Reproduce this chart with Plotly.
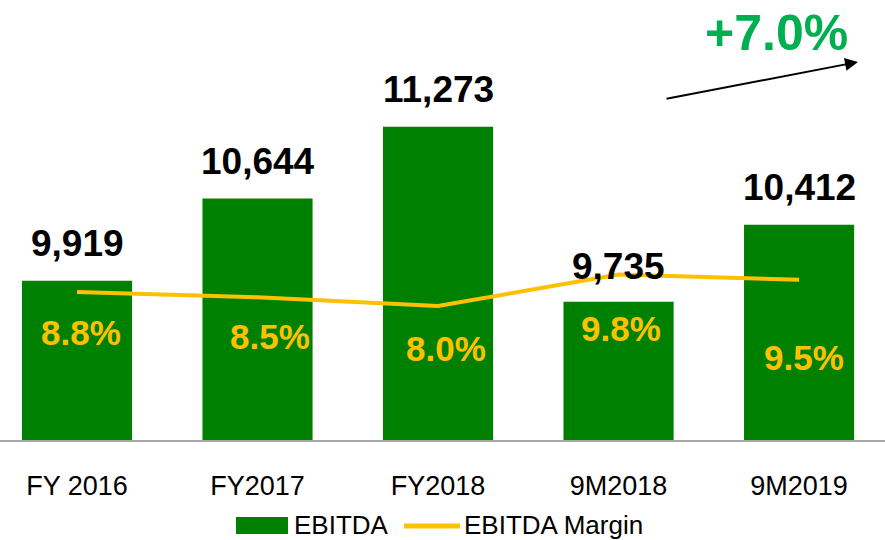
import plotly.graph_objects as go

categories = ["FY 2016", "FY2017", "FY2018", "9M2018", "9M2019"]
ebitda = [9919, 10644, 11273, 9735, 10412]
margin = [8.8, 8.5, 8.0, 9.8, 9.5]
growth_label = "+7.0%"
series_names = ["EBITDA", "EBITDA Margin"]

# label offsets (styling only)
value_yshift = [37, 37, 37, 35, 37]
margin_yshift = [-41, -39, -43, -54, -78]
margin_xshift = [4, 12, 8, 2, 5]

FONT = "Liberation Sans, Arial, sans-serif"
GREEN = "#008000"
GOLD = "#FFC000"
W, H, PLOT_H = 885, 540, 440


def px(p):
    return p / W


def py(p):
    return (PLOT_H - p) / PLOT_H


fig = go.Figure()
fig.add_trace(go.Bar(
    x=list(range(len(categories))), y=ebitda, name=series_names[0],
    marker=dict(color=GREEN, line=dict(width=0)),
    yaxis="y",
))
fig.add_trace(go.Scatter(
    x=list(range(len(categories))), y=margin, name=series_names[1],
    mode="lines", line=dict(color=GOLD, width=4),
    yaxis="y2",
))

annotations = []
for i, v in enumerate(ebitda):
    annotations.append(dict(
        x=i, y=v, xref="x", yref="y", text=f"{v:,}", showarrow=False,
        yshift=value_yshift[i], yanchor="middle",
        font=dict(family=FONT, size=37, color="black", weight="bold"),
    ))
for i, m in enumerate(margin):
    annotations.append(dict(
        x=i, y=m, xref="x", yref="y2", text=f"{m:.1f}%", showarrow=False,
        yshift=margin_yshift[i], xshift=margin_xshift[i], yanchor="middle",
        font=dict(family=FONT, size=35, color=GOLD, weight="bold"),
    ))
# growth arrow
annotations.append(dict(
    x=px(858), y=py(62), xref="paper", yref="paper",
    ax=-193, ay=37, showarrow=True, arrowhead=2, arrowsize=1.3,
    arrowwidth=2, arrowcolor="black", text="",
))
annotations.append(dict(
    x=px(776), y=py(33), xref="paper", yref="paper",
    text=growth_label, showarrow=False, yanchor="middle", xanchor="center",
    font=dict(family=FONT, size=50, color="#00B050", weight="bold"),
))

# custom legend
shapes = [
    dict(type="rect", xref="paper", yref="paper",
         x0=px(236), x1=px(288), y0=py(534), y1=py(517),
         fillcolor=GREEN, line=dict(width=0)),
    dict(type="line", xref="paper", yref="paper",
         x0=px(404), x1=px(460), y0=py(526), y1=py(526),
         line=dict(color=GOLD, width=5)),
]
annotations.append(dict(
    x=px(292), y=py(525), xref="paper", yref="paper", text=series_names[0],
    showarrow=False, xanchor="left", yanchor="middle",
    font=dict(family=FONT, size=26, color="black"),
))
annotations.append(dict(
    x=px(462), y=py(525), xref="paper", yref="paper", text=series_names[1],
    showarrow=False, xanchor="left", yanchor="middle",
    font=dict(family=FONT, size=26, color="black"),
))

fig.update_layout(
    width=W, height=H,
    margin=dict(l=0, r=0, t=0, b=H - PLOT_H),
    paper_bgcolor="white", plot_bgcolor="white",
    bargap=0.39,
    showlegend=False,
    xaxis=dict(
        tickmode="array", tickvals=list(range(len(categories))), ticktext=categories,
        range=[-0.4266, 4.476], showgrid=False, zeroline=False,
        showline=True, linecolor="#A6A6A6", linewidth=1.5,
        ticks="", ticklabelstandoff=21, automargin=False,
        tickfont=dict(family=FONT, size=27, color="black"),
    ),
    yaxis=dict(range=[8520, 12388], visible=False, showgrid=False),
    yaxis2=dict(range=[0.34, 25.49], overlaying="y", visible=False, showgrid=False),
    annotations=annotations,
    shapes=shapes,
)

fig.write_html("out.html", config={"displayModeBar": False},
               post_script="document.body.style.margin='0';")
